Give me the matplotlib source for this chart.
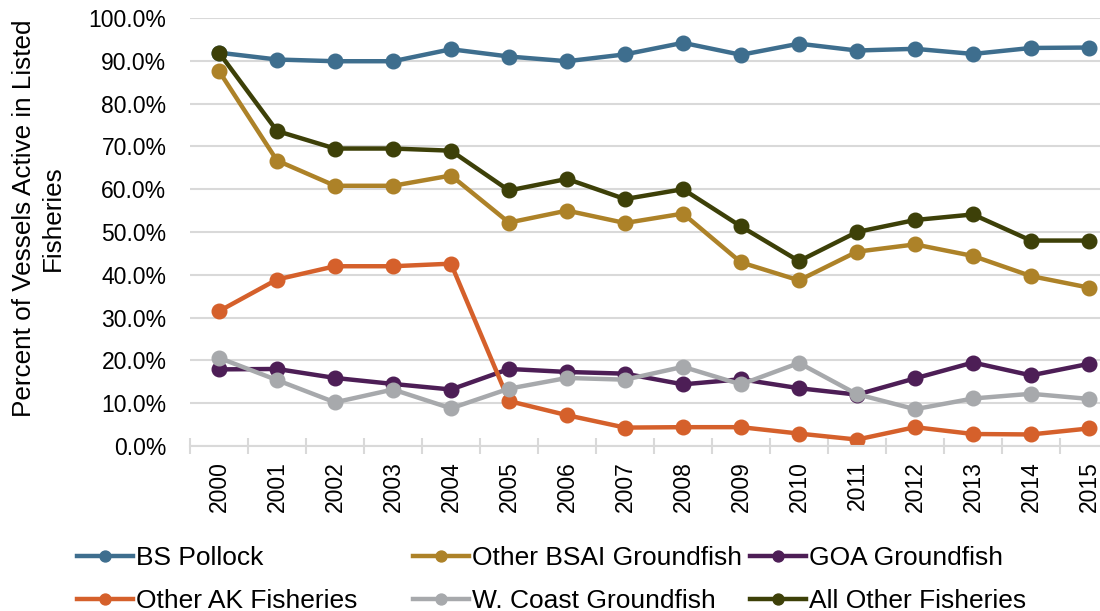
import matplotlib.pyplot as plt
import numpy as np
from matplotlib.ticker import FuncFormatter

plt.rcParams['font.family'] = ['Liberation Sans', 'DejaVu Sans']

years = ['2000', '2001', '2002', '2003', '2004', '2005', '2006', '2007',
         '2008', '2009', '2010', '2011', '2012', '2013', '2014', '2015']

bs_pollock = [91.9, 90.3, 89.9, 89.9, 92.7, 91.0, 89.9, 91.5,
              94.2, 91.4, 94.0, 92.4, 92.8, 91.6, 93.0, 93.1]
other_bsai = [87.6, 66.7, 60.8, 60.8, 63.2, 52.2, 55.0, 52.1,
              54.3, 42.9, 38.7, 45.4, 47.1, 44.4, 39.7, 37.0]
goa = [17.9, 18.0, 15.9, 14.5, 13.2, 18.0, 17.3, 16.9,
       14.4, 15.6, 13.5, 12.0, 15.8, 19.5, 16.5, 19.2]
other_ak = [31.5, 38.9, 42.0, 42.0, 42.6, 10.5, 7.2, 4.3,
            4.4, 4.4, 2.9, 1.5, 4.4, 2.8, 2.7, 4.1]
wcoast = [20.6, 15.4, 10.2, 13.2, 8.8, 13.4, 15.9, 15.5,
          18.5, 14.4, 19.4, 12.1, 8.6, 11.1, 12.2, 11.0]
all_other = [91.9, 73.6, 69.5, 69.5, 69.0, 59.7, 62.4, 57.7,
             60.0, 51.3, 43.2, 50.0, 52.8, 54.1, 48.0, 48.0]

fig = plt.figure(figsize=(11, 6.11), dpi=100)
ax = fig.add_axes([190/1100, 1 - 446/611, 928/1100, 428/611])

x = np.arange(len(years))
style = dict(linewidth=3.2, marker='o', markersize=10.5)

l1, = ax.plot(x, bs_pollock, color='#3E6E8E', label='BS Pollock', **style)
l2, = ax.plot(x, other_bsai, color='#AD8228', label='Other BSAI Groundfish', **style)
l3, = ax.plot(x, goa, color='#4D1E56', label='GOA Groundfish', **style)
l4, = ax.plot(x, other_ak, color='#D5602B', label='Other AK Fisheries', **style)
l5, = ax.plot(x, wcoast, color='#A7A9AC', label='W. Coast Groundfish', **style)
l6, = ax.plot(x, all_other, color='#3D4008', label='All Other Fisheries', **style)

ax.set_xlim(-0.5, len(years) - 0.5)
ax.set_ylim(0, 100)
ax.set_yticks(np.arange(0, 101, 10))
ax.yaxis.set_major_formatter(FuncFormatter(lambda v, p: '%.1f%%' % v))
ax.set_xticks(x)
ax.set_xticklabels(years, rotation=90)
ax.set_xticks(np.arange(-0.5, len(years), 1), minor=True)

ax.grid(axis='y', color='#D9D9D9', linewidth=1.5)
ax.set_axisbelow(True)
for s in ['top', 'right', 'left']:
    ax.spines[s].set_visible(False)
ax.spines['bottom'].set_color('#D9D9D9')
ax.spines['bottom'].set_linewidth(1.5)

ax.tick_params(axis='y', length=0, labelsize=16.5, pad=17)
ax.tick_params(axis='x', which='major', length=0, labelsize=16.5, pad=11)
ax.tick_params(axis='x', which='minor', length=11, direction='inout',
               color='#D9D9D9', width=1.5)

fig.text(38/1100, 1 - 218/611, 'Percent of Vessels Active in Listed\nFisheries',
         rotation=90, ha='center', va='center', fontsize=18.8, linespacing=1.25)

leg_kw = dict(frameon=False, fontsize=19, handlelength=2.1, handletextpad=0.12,
              labelspacing=0.72, borderpad=0, loc='upper left', markerscale=0.75)
top = 1 - 533/611
fig.legend(handles=[l1, l4], bbox_to_anchor=(64/1100, top), **leg_kw)
fig.legend(handles=[l2, l5], bbox_to_anchor=(400/1100, top), **leg_kw)
fig.legend(handles=[l3, l6], bbox_to_anchor=(737/1100, top), **leg_kw)

plt.savefig('out.png')
